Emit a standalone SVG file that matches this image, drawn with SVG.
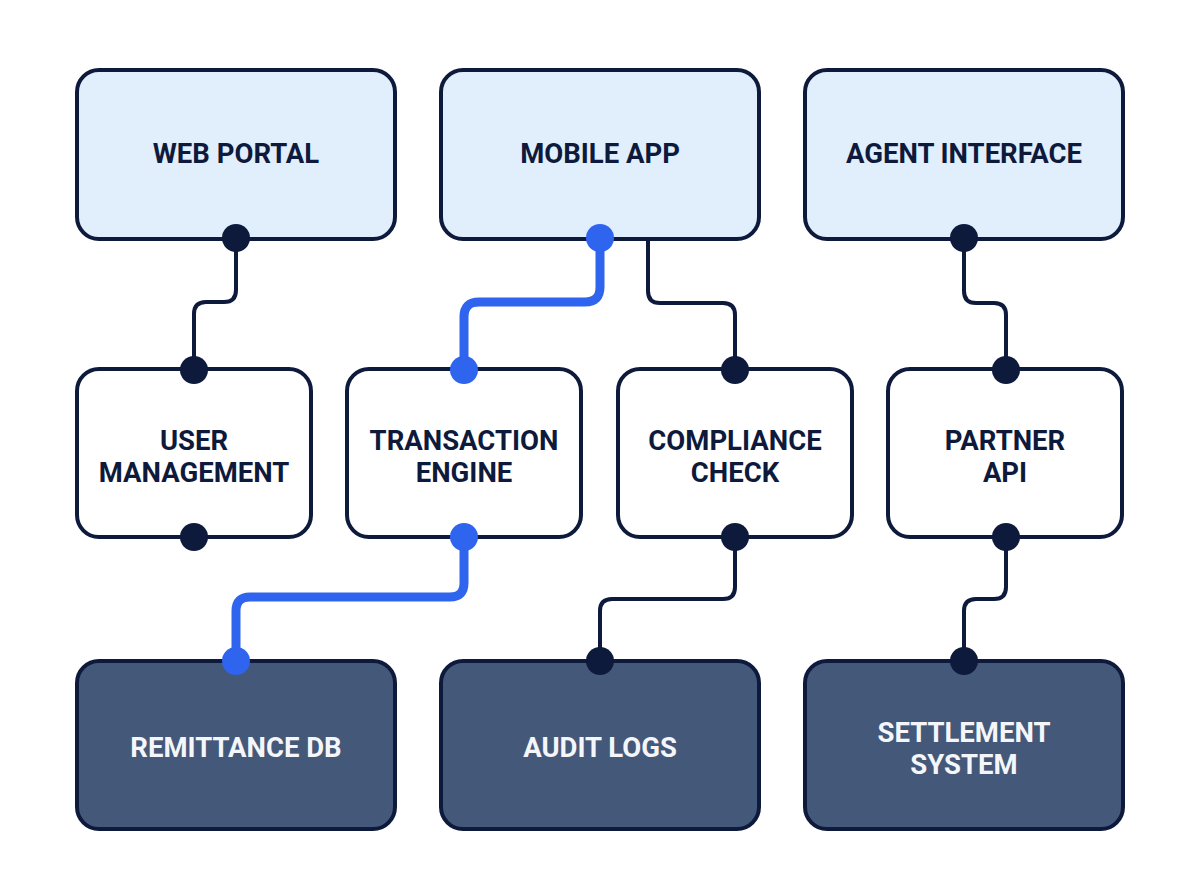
<svg xmlns="http://www.w3.org/2000/svg" width="1200" height="896" viewBox="0 0 1200 896">
<style>
.box{stroke:#0e1a3c;stroke-width:4}
.top{fill:#e1eefb}
.mid{fill:#ffffff}
.bot{fill:#44597a}
.lbl{font-family:Roboto,"Liberation Sans",sans-serif;font-weight:700;font-size:27.5px;text-anchor:middle}
.dk{fill:#0e1a3c}
.lt{fill:#f4f6fa}
.wire{fill:none;stroke:#0e1a3c;stroke-width:4;stroke-linecap:round}
.hot{fill:none;stroke:#2f64ee;stroke-width:9;stroke-linecap:round}
.dot{fill:#0e1a3c}
.bdot{fill:#2f64ee}
</style>
<rect width="1200" height="896" fill="#ffffff"/>
<g id="connectors">
<path class="wire" d="M236 238 V290 Q236 302 224 302 H206 Q194 302 194 314 V370"/>
<path class="wire" d="M648 239 V291 Q648 303 660 303 H723 Q735 303 735 315 V370"/>
<path class="wire" d="M964 238 V291 Q964 303 976 303 H994 Q1006 303 1006 315 V370"/>
<path class="wire" d="M735 537 V587 Q735 599 723 599 H612 Q600 599 600 611 V661"/>
<path class="wire" d="M1006 537 V587 Q1006 599 994 599 H976 Q964 599 964 611 V661"/>
<path class="hot" d="M600 238 V287 Q600 302 585 302 H479 Q464 302 464 317 V370"/>
<path class="hot" d="M464 537 V583 Q464 597 450 597 H250 Q236 597 236 611 V661"/>
</g>
<g id="web-portal"><rect class="box top" x="77" y="70" width="318" height="169" rx="22"/><text class="lbl dk" x="236" y="163">WEB PORTAL</text></g>
<g id="mobile-app"><rect class="box top" x="441" y="70" width="318" height="169" rx="22"/><text class="lbl dk" x="600" y="163">MOBILE APP</text></g>
<g id="agent-interface"><rect class="box top" x="805" y="70" width="318" height="169" rx="22"/><text class="lbl dk" x="964" y="163">AGENT INTERFACE</text></g>
<g id="user-management"><rect class="box mid" x="77" y="369" width="234" height="168" rx="22"/><text class="lbl dk" x="194" y="450">USER</text><text class="lbl dk" x="194" y="482">MANAGEMENT</text></g>
<g id="transaction-engine"><rect class="box mid" x="347" y="369" width="234" height="168" rx="22"/><text class="lbl dk" x="464" y="450">TRANSACTION</text><text class="lbl dk" x="464" y="482">ENGINE</text></g>
<g id="compliance-check"><rect class="box mid" x="618" y="369" width="234" height="168" rx="22"/><text class="lbl dk" x="735" y="450">COMPLIANCE</text><text class="lbl dk" x="735" y="482">CHECK</text></g>
<g id="partner-api"><rect class="box mid" x="888" y="369" width="234" height="168" rx="22"/><text class="lbl dk" x="1005" y="450">PARTNER</text><text class="lbl dk" x="1005" y="482">API</text></g>
<g id="remittance-db"><rect class="box bot" x="77" y="661" width="318" height="168" rx="22"/><text class="lbl lt" x="236" y="757">REMITTANCE DB</text></g>
<g id="audit-logs"><rect class="box bot" x="441" y="661" width="318" height="168" rx="22"/><text class="lbl lt" x="600" y="757">AUDIT LOGS</text></g>
<g id="settlement-system"><rect class="box bot" x="805" y="661" width="318" height="168" rx="22"/><text class="lbl lt" x="964" y="742">SETTLEMENT</text><text class="lbl lt" x="964" y="774">SYSTEM</text></g>
<g id="ports">
<circle class="dot" cx="236" cy="238" r="14"/>
<circle class="dot" cx="194" cy="370" r="14"/>
<circle class="dot" cx="194" cy="537" r="14"/>
<circle class="bdot" cx="600" cy="238" r="14"/>
<circle class="bdot" cx="464" cy="370" r="14"/>
<circle class="bdot" cx="464" cy="537" r="14"/>
<circle class="bdot" cx="236" cy="661" r="14"/>
<circle class="dot" cx="735" cy="370" r="14"/>
<circle class="dot" cx="735" cy="537" r="14"/>
<circle class="dot" cx="600" cy="661" r="14"/>
<circle class="dot" cx="964" cy="238" r="14"/>
<circle class="dot" cx="1006" cy="370" r="14"/>
<circle class="dot" cx="1006" cy="537" r="14"/>
<circle class="dot" cx="964" cy="661" r="14"/>
</g>
</svg>
